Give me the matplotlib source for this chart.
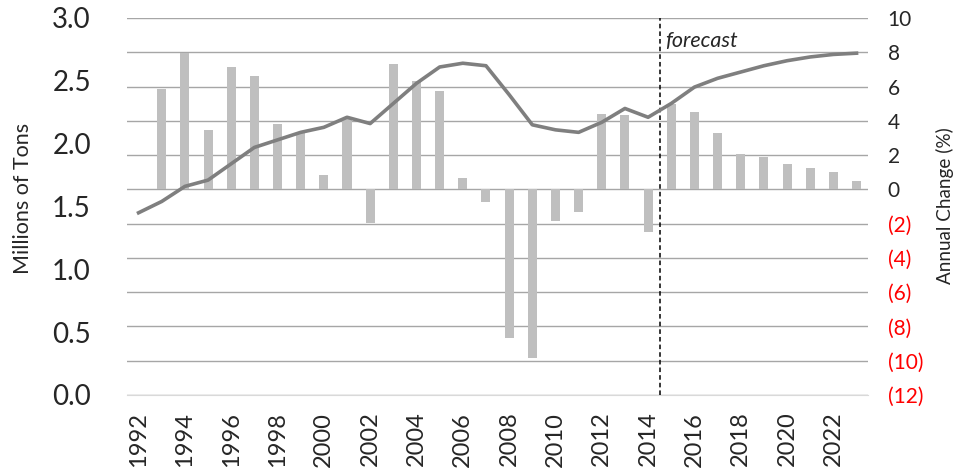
import matplotlib
matplotlib.use('Agg')
import matplotlib.pyplot as plt

plt.rcParams['font.family'] = ['Lato', 'DejaVu Sans']

years = list(range(1992, 2024))
tons = [1.45, 1.54, 1.66, 1.71, 1.84, 1.97, 2.03, 2.09, 2.13, 2.21,
        2.16, 2.32, 2.48, 2.61, 2.64, 2.62, 2.39, 2.15, 2.11, 2.09,
        2.17, 2.28, 2.21, 2.32, 2.45, 2.52, 2.57, 2.62, 2.66, 2.69,
        2.71, 2.72]
bar_years = list(range(1993, 2024))
change = [5.83, 7.97, 3.46, 7.14, 6.61, 3.79, 3.30, 0.84, 4.08,
          -1.98, 7.29, 6.32, 5.74, 0.64, -0.72, -8.69, -9.82, -1.85, -1.32,
          4.42, 4.34, -2.47, 4.96, 4.51, 3.31, 2.04, 1.88, 1.46, 1.26,
          1.01, 0.48]
left_ticks = [0.0, 0.5, 1.0, 1.5, 2.0, 2.5, 3.0]
right_ticks = list(range(-12, 11, 2))
forecast_start = 2014.5

fig = plt.figure(figsize=(9.65, 4.71), dpi=100)
ax = fig.add_axes([0.1316, 0.1614, 0.768, 0.8004])
ax2 = ax.twinx()

# bars on the percent scale (right side)
ax.bar(bar_years, change, width=0.39, color='#BFBFBF', zorder=2)
ax.set_ylim(-12, 10)
ax.set_xlim(1991.5, 2023.5)
ax.yaxis.tick_right()
ax.set_yticks(right_ticks)
ax.set_yticklabels([str(t) if t >= 0 else '(%d)' % -t for t in right_ticks])
for lab, t in zip(ax.get_yticklabels(), right_ticks):
    lab.set_color('#FF0000' if t < 0 else '#262626')
ax.tick_params(axis='y', length=0, pad=14, labelsize=15)
ax.grid(axis='y', color='#A6A6A6', linewidth=1.0, zorder=0)
ax.set_axisbelow(True)

ax.set_xticks(years[::2])
ax.set_xticklabels([str(y) for y in years[::2]], rotation=90)
ax.tick_params(axis='x', length=0, pad=12, labelsize=17, labelcolor='#262626')

for s in ['top', 'left', 'right']:
    ax.spines[s].set_visible(False)
ax.spines['bottom'].set_color('#D9D9D9')

ax.axvline(forecast_start, color='black', linestyle=(0, (3, 2)), linewidth=1.1, zorder=3)
ax.text(forecast_start + 0.25, 0.94, 'forecast', transform=ax.get_xaxis_transform(),
        fontsize=15.5, style='italic', color='#262626', va='center', ha='left')

# tonnage line on the left scale
ax2.plot(years, tons, color='#7F7F7F', linewidth=2.6, zorder=4)
ax2.set_ylim(0, 3)
ax2.yaxis.tick_left()
ax2.set_yticks(left_ticks)
ax2.set_yticklabels(['%.1f' % t for t in left_ticks])
ax2.tick_params(axis='y', length=0, pad=26, labelsize=20, labelcolor='#262626')
for s in ['top', 'left', 'right', 'bottom']:
    ax2.spines[s].set_visible(False)

# axis titles placed in figure pixels, sized to the reference length
left_title = fig.text(23 / 965, 1 - 198 / 471, 'Millions of Tons', rotation=90,
                      ha='center', va='center', color='#262626', fontsize=13)
right_title = fig.text(945 / 965, 1 - 206 / 471, 'Annual Change (%)', rotation=90,
                       ha='center', va='center', color='#262626', fontsize=12)
renderer = fig.canvas.get_renderer()
for t, target in [(left_title, 151), (right_title, 155)]:
    h = t.get_window_extent(renderer).height
    t.set_fontsize(t.get_fontsize() * target / h)

fig.savefig('out.png', dpi=100)
